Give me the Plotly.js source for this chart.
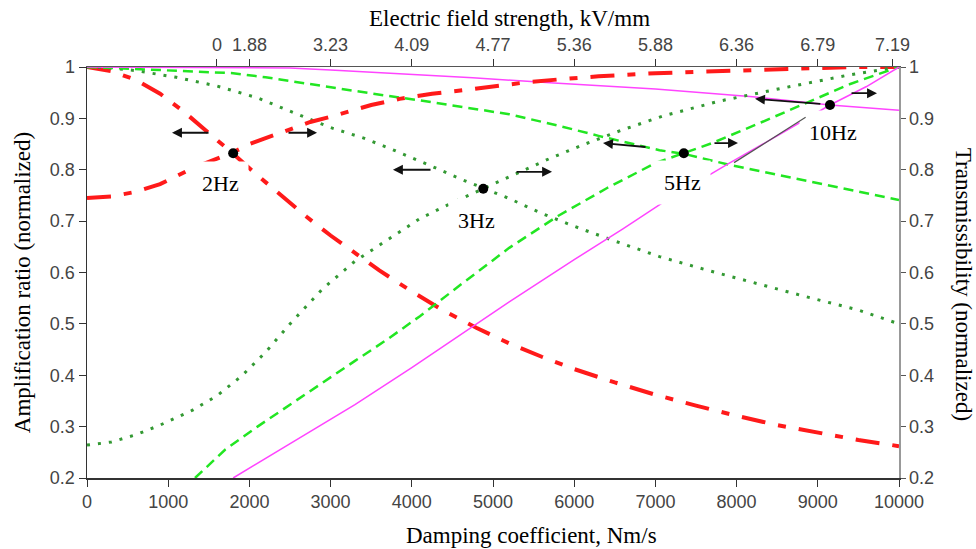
<!DOCTYPE html>
<html>
<head>
<meta charset="utf-8">
<script src="https://cdn.plot.ly/plotly-3.0.1.min.js"></script>
<style>html,body{margin:0;padding:0;background:#fff;}#chart{width:976px;height:549px;}</style>
</head>
<body>
<div id="chart"></div>
<script>
// ---- Data ----
// 2 Hz amplification ratio (red dash-dot, falling)
const red2AmpX = [0, 300, 600, 900, 1200, 1500, 1800, 2100, 2400, 2700, 3000, 3300, 3600, 4000, 4400, 4800, 5200, 5600, 6000, 6500, 7000, 7500, 8000, 8500, 9000, 9500, 10000];
const red2AmpY = [1, 0.992, 0.975, 0.948, 0.912, 0.872, 0.831, 0.789, 0.748, 0.709, 0.672, 0.637, 0.604, 0.563, 0.525, 0.492, 0.462, 0.436, 0.412, 0.386, 0.362, 0.341, 0.321, 0.303, 0.288, 0.274, 0.262];
// 2 Hz transmissibility (red dash-dot, rising)
const red2TrX = [0, 300, 600, 900, 1300, 1550, 1800, 2000, 2300, 2550, 2750, 3000, 3300, 3500, 3850, 4250, 4700, 5100, 5450, 5900, 6300, 7000, 7900, 8600, 9400, 10000];
const red2TrY = [0.745, 0.748, 0.757, 0.772, 0.803, 0.819, 0.834, 0.850, 0.868, 0.881, 0.893, 0.903, 0.917, 0.926, 0.938, 0.948, 0.956, 0.964, 0.971, 0.977, 0.982, 0.988, 0.992, 0.996, 1, 1];
// 3 Hz amplification (dark green dotted, falling)
const g3AmpX = [0, 300, 600, 1100, 1600, 2100, 2500, 3000, 3400, 3750, 4200, 4600, 4900, 5200, 5600, 6000, 6450, 7050, 7650, 8300, 8900, 9500, 10000];
const g3AmpY = [1, 0.998, 0.993, 0.98, 0.963, 0.94, 0.914, 0.882, 0.862, 0.84, 0.81, 0.782, 0.763, 0.744, 0.715, 0.69, 0.664, 0.631, 0.604, 0.576, 0.551, 0.527, 0.5];
// 3 Hz transmissibility (dark green dotted, rising)
const g3TrX = [0, 300, 600, 900, 1300, 1600, 1900, 2200, 2500, 2900, 3300, 3700, 4100, 4500, 4900, 5300, 5700, 6100, 6600, 7100, 7800, 8600, 9400, 10000];
const g3TrY = [0.264, 0.27, 0.284, 0.303, 0.332, 0.36, 0.398, 0.445, 0.5, 0.568, 0.622, 0.664, 0.705, 0.736, 0.765, 0.794, 0.822, 0.848, 0.878, 0.905, 0.934, 0.96, 0.985, 1];
// 5 Hz amplification (bright green dashed, falling)
const g5AmpX = [0, 900, 1800, 2200, 3000, 3650, 4100, 4900, 5200, 5800, 6300, 7050, 7350, 7900, 8700, 9500, 10000];
const g5AmpY = [1, 0.994, 0.988, 0.98, 0.96, 0.945, 0.935, 0.915, 0.908, 0.886, 0.866, 0.838, 0.831, 0.81, 0.784, 0.758, 0.741];
// 5 Hz transmissibility (bright green dashed, rising)
const g5TrX = [1330, 1700, 2100, 2500, 2900, 3300, 3700, 4100, 4600, 5200, 5800, 6400, 7000, 7350, 7700, 8300, 8850, 9400, 10000];
const g5TrY = [0.2, 0.255, 0.3, 0.343, 0.386, 0.428, 0.47, 0.515, 0.576, 0.648, 0.71, 0.764, 0.813, 0.833, 0.852, 0.892, 0.93, 0.967, 1];
// 10 Hz amplification (magenta solid, falling)
const m10AmpX = [0, 2000, 2500, 3000, 4000, 4750, 5750, 7000, 8200, 9150, 10000];
const m10AmpY = [1, 0.999, 0.998, 0.994, 0.986, 0.979, 0.969, 0.957, 0.942, 0.926, 0.916];
// 10 Hz transmissibility (magenta solid, rising)
const m10TrX = [1800, 2500, 3300, 4000, 4700, 5200, 6000, 6600, 7100, 7900, 8500, 9150, 9600, 10000];
const m10TrY = [0.2, 0.266, 0.343, 0.415, 0.49, 0.543, 0.625, 0.685, 0.737, 0.812, 0.866, 0.926, 0.962, 1];

// crossing points (black dots)
const crossX = [1800, 4880, 7350, 9150];
const crossY = [0.832, 0.763, 0.832, 0.926];

// labels
const freqLabels = ['2Hz', '3Hz', '5Hz', '10Hz'];
const labelX = [1640, 4800, 7330, 9190];
const labelY = [0.774, 0.702, 0.776, 0.872];

// arrows (head / tail)
const arrowHeadX = [1047, 2833, 3768, 5727, 6355, 8017, 8227, 9729];
const arrowHeadY = [0.872, 0.872, 0.800, 0.796, 0.852, 0.852, 0.938, 0.949];
const arrowTailX = [1515, 2463, 4249, 5271, 6897, 7709, 9050, 9397];
const arrowTailY = [0.872, 0.872, 0.800, 0.796, 0.844, 0.852, 0.928, 0.949];

// axis ticks
const bottomTicks = [0, 1000, 2000, 3000, 4000, 5000, 6000, 7000, 8000, 9000, 10000];
const topTickPos = [1600, 2000, 3000, 4000, 5000, 6000, 7000, 8000, 9000, 9920];
const topTickText = ['0', '1.88', '3.23', '4.09', '4.77', '5.36', '5.88', '6.36', '6.79', '7.19'];
const yTicks = [0.2, 0.3, 0.4, 0.5, 0.6, 0.7, 0.8, 0.9, 1];
const yTickText = ['0.2', '0.3', '0.4', '0.5', '0.6', '0.7', '0.8', '0.9', '1'];

// ---- Styles ----
const RED = {color: '#ff1a1a', width: 4, dash: '24px,13px,8px,13px'};
const DKG = {color: '#339933', width: 3, dash: '3px,8px'};
const BRG = {color: '#22e622', width: 2.5, dash: '10px,6px'};
const MAG = {color: '#ff44ff', width: 1.5};

function tr(x, y, line, yaxis) {
  return {type: 'scatter', mode: 'lines', x: x, y: y, line: line, yaxis: yaxis, xaxis: 'x', hoverinfo: 'skip', showlegend: false};
}

const data = [
  tr(red2AmpX, red2AmpY, RED, 'y'),
  tr(red2TrX, red2TrY, RED, 'y2'),
  tr(g3AmpX, g3AmpY, DKG, 'y'),
  tr(g3TrX, g3TrY, DKG, 'y2'),
  tr(g5AmpX, g5AmpY, BRG, 'y'),
  tr(g5TrX, g5TrY, BRG, 'y2'),
  tr(m10AmpX, m10AmpY, MAG, 'y'),
  tr(m10TrX, m10TrY, MAG, 'y2'),
  {type: 'scatter', mode: 'markers', x: crossX, y: crossY, xaxis: 'x2', yaxis: 'y',
   marker: {color: '#000', size: 10}, hoverinfo: 'skip', showlegend: false}
];

const tickFont = {family: 'Liberation Sans, Arial, sans-serif', size: 18, color: '#444'};
const titleFont = {family: 'Liberation Serif, Times New Roman, serif', size: 23, color: '#000'};

const annotations = [];
// white label boxes
for (let i = 0; i < freqLabels.length; i++) {
  annotations.push({x: labelX[i], y: labelY[i], xref: 'x', yref: 'y', text: freqLabels[i], showarrow: false,
    font: {family: 'Liberation Serif, Times New Roman, serif', size: 22, color: '#000'},
    bgcolor: '#ffffff', borderpad: 9, xanchor: 'center', yanchor: 'middle'});
}
// leader line at 10 Hz
annotations.push({x: 8850, y: 0.902, ax: 7950, ay: 0.812, xref: 'x', yref: 'y', axref: 'x', ayref: 'y',
  showarrow: true, arrowhead: 0, arrowwidth: 1.2, arrowcolor: '#555', text: ''});
// arrows
for (let i = 0; i < arrowHeadX.length; i++) {
  annotations.push({x: arrowHeadX[i], y: arrowHeadY[i], ax: arrowTailX[i], ay: arrowTailY[i],
    xref: 'x', yref: 'y', axref: 'x', ayref: 'y', text: '', showarrow: true,
    arrowhead: 2, arrowsize: 1.1, arrowwidth: 1.8, arrowcolor: '#111'});
}
// axis titles as annotations
annotations.push({xref: 'paper', yref: 'paper', x: 0.547, y: -0.141, text: 'Damping coefficient, Nm/s',
  showarrow: false, font: titleFont, xanchor: 'center', yanchor: 'middle'});
annotations.push({xref: 'paper', yref: 'paper', x: 0.52, y: 1.117, text: 'Electric field strength, kV/mm',
  showarrow: false, font: titleFont, xanchor: 'center', yanchor: 'middle'});
annotations.push({xref: 'paper', yref: 'paper', x: -0.080, y: 0.474, text: 'Amplification ratio (normalized)',
  showarrow: false, font: titleFont, textangle: -90, xanchor: 'center', yanchor: 'middle'});
annotations.push({xref: 'paper', yref: 'paper', x: 1.0788, y: 0.47, text: 'Transmissibility (normalized)',
  showarrow: false, font: titleFont, textangle: 90, xanchor: 'center', yanchor: 'middle'});

const layout = {
  width: 976, height: 549,
  margin: {l: 87, r: 77, t: 67, b: 71, pad: 0},
  paper_bgcolor: '#ffffff', plot_bgcolor: '#ffffff',
  showlegend: false,
  xaxis: {range: [0, 10000], tickvals: bottomTicks, ticktext: bottomTicks.map(String), ticks: 'outside', ticklen: 7,
    tickcolor: '#333', showline: true, linecolor: '#333', linewidth: 1.5, showgrid: false, zeroline: false,
    tickfont: tickFont, fixedrange: true},
  xaxis2: {range: [0, 10000], overlaying: 'x', side: 'top', tickvals: topTickPos, ticktext: topTickText,
    ticks: 'outside', ticklen: 7, tickcolor: '#333', showline: true, linecolor: '#555', linewidth: 1.5,
    showgrid: false, zeroline: false, tickfont: tickFont, anchor: 'y'},
  yaxis: {range: [0.2, 1], tickvals: yTicks, ticktext: yTickText, ticks: 'outside', ticklen: 7, tickcolor: '#333',
    showline: true, linecolor: '#333', linewidth: 1.5, showgrid: false, zeroline: false, tickfont: tickFont},
  yaxis2: {range: [0.2, 1], overlaying: 'y', side: 'right', tickvals: yTicks, ticktext: yTickText, ticks: 'outside',
    ticklen: 5, tickcolor: '#555', showline: true, linecolor: '#999', linewidth: 1.5, showgrid: false,
    zeroline: false, tickfont: tickFont, anchor: 'x'},
  annotations: annotations
};

Plotly.newPlot('chart', data, layout, {staticPlot: true, displayModeBar: false});
</script>
</body>
</html>
